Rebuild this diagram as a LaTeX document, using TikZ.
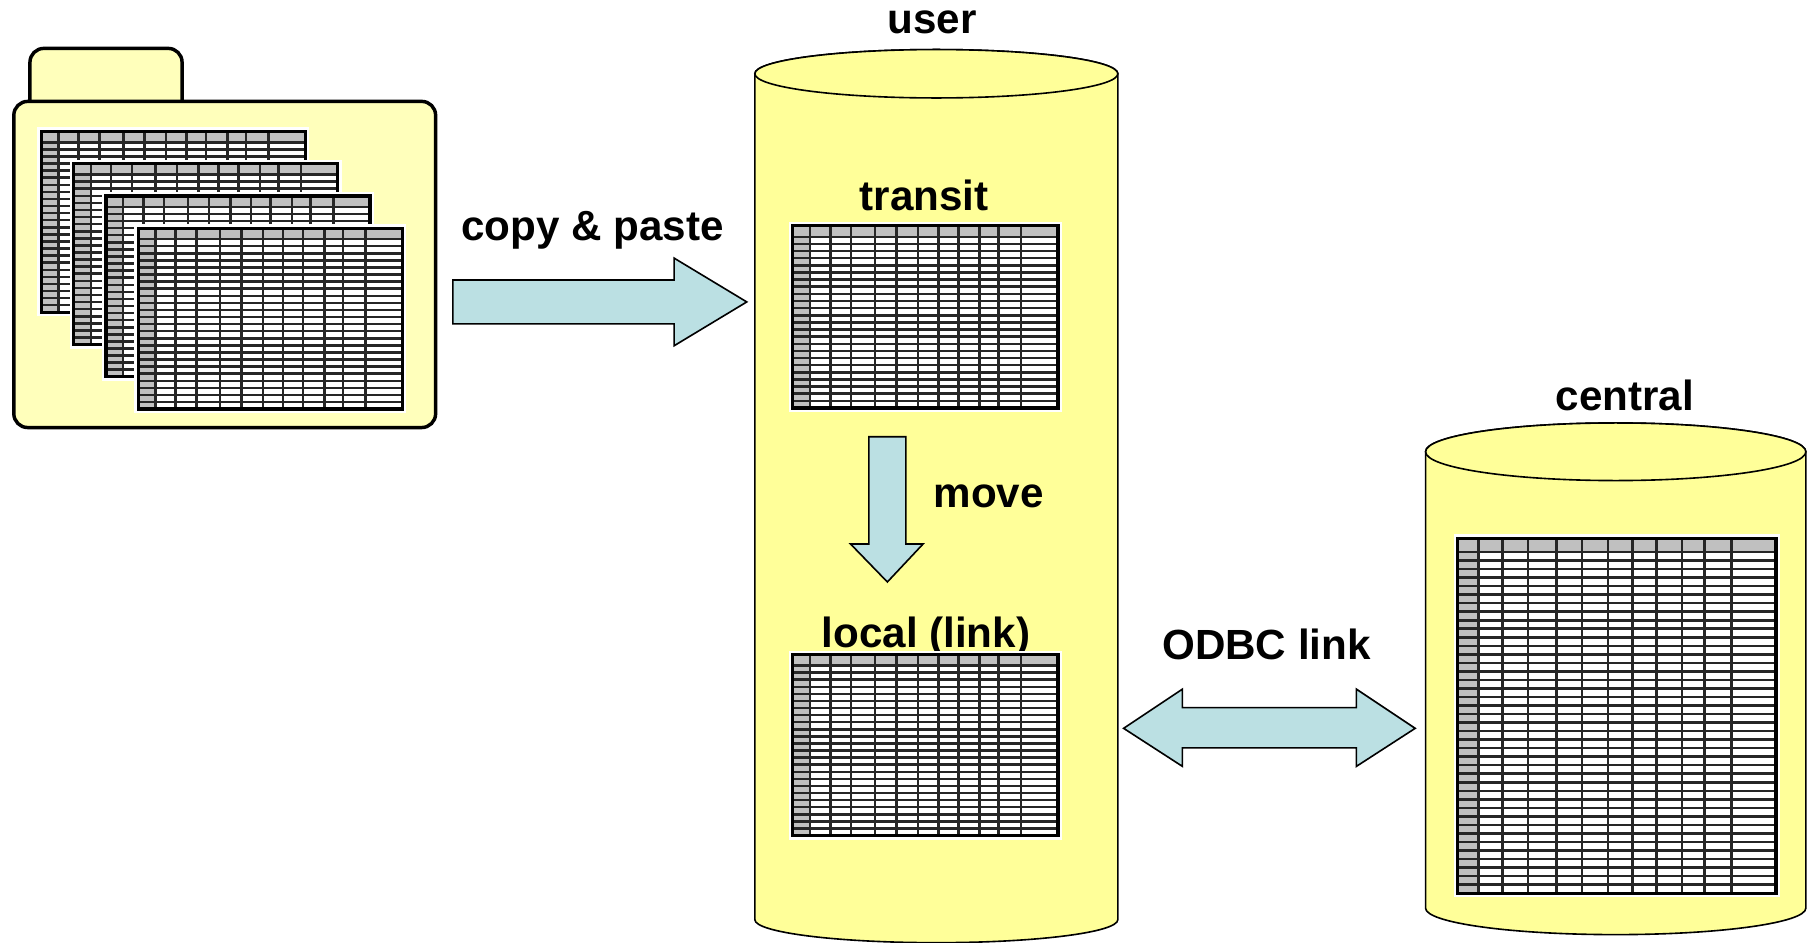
\documentclass[tikz,border=0pt]{standalone}
\usepackage{fontspec}
\setmainfont{Liberation Sans}
\usepackage{tikz}
\definecolor{paleyellow}{HTML}{FFFFBB}
\definecolor{dbyellow}{HTML}{FFFF99}
\definecolor{arrowblue}{HTML}{BBE0E3}
\definecolor{cellgray}{HTML}{C0C0C0}

\newcommand{\spreadsheet}[6]{%
  \fill[white] ({#1-3.5},{#2-3.5}) rectangle ({#1+#3+3.5},{#2+#4+3.5});
  \fill[cellgray] (#1,#2) rectangle ({#1+#3},{#2+#5});
  \fill[cellgray] (#1,#2) rectangle ({#1+0.065*#3},{#2+#4});
  \foreach \f in {0.065,0.141,0.220,0.310,0.391,0.472,0.549,0.624,0.705,0.775,0.861}
    \draw[gridline] ({#1+\f*#3},#2) -- ({#1+\f*#3},{#2+#4});
  \foreach \r in {0,...,#6}
    \draw[gridline] (#1,{#2+#5+\r*(#4-#5)/#6}) -- ({#1+#3},{#2+#5+\r*(#4-#5)/#6});
  \draw[sheetframe] (#1,#2) rectangle ({#1+#3},{#2+#4});
}

\begin{document}
\begin{tikzpicture}[x=0.5pt,y=-0.5pt]
    \tikzstyle folder=[line width=1.5pt,fill=paleyellow,rounded corners=6]
    \tikzstyle barrel=[line width=0.7pt,fill=dbyellow]
    \tikzstyle blockarrow=[line width=0.7pt,fill=arrowblue,line join=miter]
    \tikzstyle gridline=[line width=1.1pt,black!85]
    \tikzstyle sheetframe=[line width=1.4pt,black]
    \tikzstyle title=[font=\fontsize{18.3}{22}\selectfont\bfseries,anchor=base,inner sep=0pt]
    \useasboundingbox (0,0) rectangle (1568,818);

    \draw[folder] (26,100) -- (26,42) -- (158,42) -- (158,100);
    \draw[folder] (12,88) rectangle (378,371);
    \spreadsheet{36}{114}{229}{157}{9.5}{24}
    \spreadsheet{64}{142}{229}{157}{9.5}{24}
    \spreadsheet{92}{170}{229}{157}{9.5}{24}
    \spreadsheet{120}{198}{229}{157}{9.5}{24}

    \draw[barrel] (655,64) -- (655,798) arc[start angle=180,end angle=0,x radius=157.5,y radius=20]
      -- (970,64) arc[start angle=0,end angle=-180,x radius=157.5,y radius=21] -- cycle;
    \draw[barrel] (812.5,64) ellipse[x radius=157.5,y radius=21];
    \coordinate (user) at (812.5,64);
    \node[title] (userlabel) at (809,29.5) {user};
    \node[title] (transitlabel) at (802,183) {transit};
    \spreadsheet{688}{196}{230}{158}{9.5}{24}
    \node[title] (locallabel) at (803.5,562) {local (link)};
    \spreadsheet{688}{568}{230}{157}{9.5}{24}

    \draw[barrel] (1237,392) -- (1237,788) arc[start angle=180,end angle=0,x radius=165,y radius=23]
      -- (1567,392) arc[start angle=0,end angle=-180,x radius=165,y radius=25] -- cycle;
    \draw[barrel] (1402,392) ellipse[x radius=165,y radius=25];
    \coordinate (central) at (1402,392);
    \node[title] (centrallabel) at (1410,356) {central};
    \spreadsheet{1265}{467}{276}{308}{12}{40}

    \draw[blockarrow] (393,243) -- (585,243) -- (585,224) -- (648,262) -- (585,300)
      -- (585,281) -- (393,281) -- cycle;
    \node[title] (copylabel) at (514,209) {copy \& paste};
    \draw[blockarrow] (754,379) -- (786,379) -- (786,472) -- (801,472) -- (770,505)
      -- (738,472) -- (754,472) -- cycle;
    \node[title] (movelabel) at (858,440) {move};
    \draw[blockarrow] (975,632) -- (1026,598) -- (1026,614) -- (1177,614) -- (1177,598)
      -- (1228,632) -- (1177,665) -- (1177,649) -- (1026,649) -- (1026,665) -- cycle;
    \node[title] (odbclabel) at (1099,572) {ODBC link};
\end{tikzpicture}
\end{document}
